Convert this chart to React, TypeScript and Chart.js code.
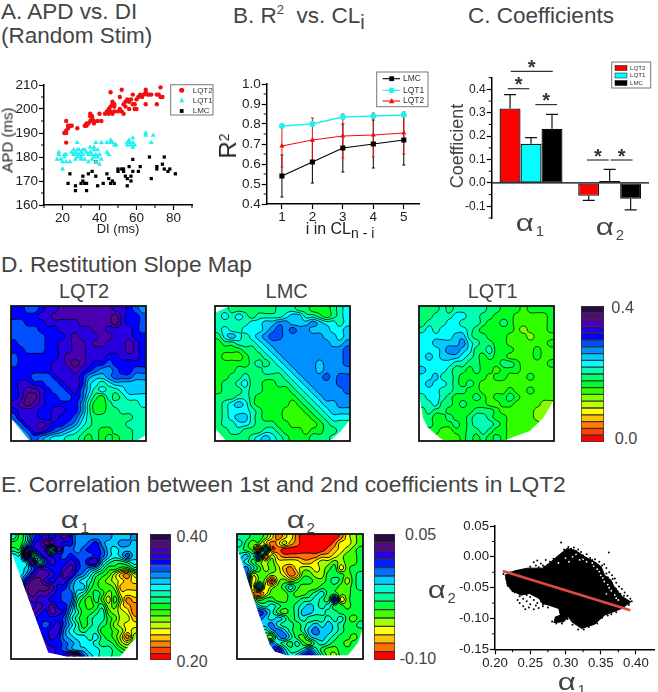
import React, { useEffect, useRef } from "react";
import { Chart, registerables } from "chart.js";

Chart.register(...registerables);

const FONT = "'Liberation Sans', Arial, sans-serif";
const INK = "#444";

// ---------- Panel A ----------
const apdLqt2 = [[21,190],[22,190],[22,191],[23,192],[23,193],[22,195],[24,193],[25,193],[22,186],[28,192],[32,193],[33,194],[33,193],[34,194],[35,195],[35,197],[35,198],[36,197],[36,196],[37,194],[37,195],[39,195],[41,195],[40,198],[43,198],[44,199],[45,198],[46,199],[47,198],[46,201],[47,202],[47,203],[48,202],[46,207],[48,199],[50,199],[51,200],[51,205],[52,199],[53,198],[53,202],[52,208],[54,201],[54,203],[55,204],[56,200],[56,203],[57,204],[58,202],[58,206],[59,200],[59,202],[60,204],[60,200],[61,205],[62,206],[63,205],[64,206],[65,207],[65,208],[66,206],[65,202],[68,206],[71,206],[71,202],[72,206],[73,205],[73,209],[74,205],[67,206],[45,200],[48,201]];
const apdLqt1 = [[17,179],[18,181],[18,182],[19,179],[20,178],[20,175],[21,180],[21,181],[22,181],[22,178],[24,178],[25,182],[26,183],[26,181],[27,182],[27,179],[28,180],[28,183],[28,181],[28,186],[29,183],[30,182],[30,180],[31,181],[31,183],[32,179],[32,183],[33,182],[34,178],[34,181],[35,184],[35,182],[36,181],[36,179],[37,183],[37,184],[37,180],[38,181],[38,186],[38,178],[39,183],[39,180],[40,181],[40,177],[41,186],[41,179],[44,182],[44,186],[45,181],[46,186],[46,187],[47,186],[48,185],[49,185],[55,185],[55,186],[56,186],[56,187],[57,185],[58,186],[58,188],[58,184],[59,185],[65,189],[65,190],[68,186],[69,189],[30,179],[29,181]];
const apdLmc = [[23,169],[24,173],[27,168],[27,166],[30,169],[31,170],[31,172],[32,169],[33,166],[33,169],[34,173],[36,174],[38,172],[38,178],[39,168],[42,169],[44,173],[45,171],[46,169],[47,170],[48,169],[50,175],[50,174],[52,175],[53,175],[53,174],[54,172],[55,168],[55,171],[56,176],[57,170],[57,172],[58,179],[58,174],[61,174],[62,176],[67,180],[68,171],[71,176],[71,175],[74,177],[75,180],[75,175],[77,174],[78,175],[81,173]];
const apdXTicks = [20, 40, 60, 80];
const apdXMinor = [10, 30, 50, 70, 90];
const apdYTicks = [160, 170, 180, 190, 200, 210];
const apdYMinor = [165, 175, 185, 195, 205];

// ---------- Panel B ----------
const cycleIndex = [1, 2, 3, 4, 5];
const r2Lmc = [0.54, 0.61, 0.68, 0.70, 0.72];
const r2Lqt1 = [0.79, 0.80, 0.835, 0.84, 0.845];
const r2Lqt2 = [0.69, 0.72, 0.74, 0.745, 0.755];
const r2LmcErr = [0.105, 0.105, 0.12, 0.12, 0.125];
const r2Lqt1Err = [0, 0.01, 0.012, 0.012, 0.012];
const r2Lqt2Err = [0.105, 0.11, 0.11, 0.11, 0.105];
const r2YTicks = [0.4, 0.5, 0.6, 0.7, 0.8, 0.9, 1.0];
const r2YMinor = [0.45, 0.55, 0.65, 0.75, 0.85, 0.95];

// ---------- Panel C ----------
const coefCategories = ["α1", "α2"];
const coefLqt2 = [0.318, -0.055];
const coefLqt1 = [0.168, 0.008];
const coefLmc = [0.232, -0.068];
const coefLqt2Err = [0.06, 0.02];
const coefLqt1Err = [0.026, 0.05];
const coefLmcErr = [0.061, 0.047];
const coefYTicks = [-0.1, 0, 0.1, 0.2, 0.3, 0.4];
const coefYMinor = [-0.15, -0.05, 0.05, 0.15, 0.25, 0.35, 0.45];
const coefBrackets = [[-0.258, 0.276, 0.477], [-0.296, -0.022, 0.403], [0.055, 0.331, 0.335], [0.712, 0.987, 0.098], [1.012, 1.291, 0.098]];

// ---------- Colour levels ----------
const levels20 = ["#ff0000","#ff4000","#ff8000","#ffc000","#ffff00","#c0ff00","#80ff00","#30ff00","#00ff20","#00ff70","#00ffb0","#00ffff","#00ccff","#0090ff","#0050ff","#0000ff","#2800e0","#4a00b0","#500a80","#2a0845"];
const levels15 = ["#ff0000","#ff7000","#ffc000","#ffff00","#a0ff00","#40ff00","#00ff40","#00ff90","#00ffd0","#00ccff","#0070ff","#0020ff","#2800e0","#500a80","#2a0845"];

// ---------- Maps: rows of contour-band indices, base 36 ----------
const mapLqt2 = ["ffeef gghhh hhhhh ggfed","ffffg ghhhh hhhhh igffe","eefff ggggg hhhhh igffe","eeeef ffggg gghhg gggfe","eeeee fffgh ggghh gggff","feeee ffggh hghhg gghgf","ffeee ffggh hgggg gghgf","effff ffghh hgggf fgggf","effff fgghi hgffe fffff","fffff fgggh gfedd effee","fffee efggg fdccd eeedd","fggff eefgg fcbab ccccc","fghhg feefg ecaba abccc","fgiig ffeef eb98a 9abbb","ghihg fffff da889 aaaab","fgggf fggff da889 9aaaa","egggf fgffe ca999 999aa","deggh gffed ba999 99aaa","ddegg fedcb a9988 999aa","ddded cbbaa 98989 899aa"];
const mapLmc = ["aa999 9999a aa998 889ab","ababa 9aaaa bccaa 989ab","aaaaa bbccd dcccd cbbab","abaab bbcde deddc ccbbc","9bcba bcdee ddddd dccbc","899aa abcdd ddddd ddccd","88889 9abcd ddddd dddde","87778 99abc ddddd dddde","88888 9a9ab cdddd cddde","88899 99aaa bcddd cdddd","8899a 99999 abcdd dedee","899ab 99889 9abcd dddee","8999a 99888 89abc dddde","999aa 98888 889ab cdddd","9abcb 98888 8789a bccdd","9abbb a9888 77789 abccc","9abcc a9888 77778 9abbb","9aabb a9998 87777 89aaa","99aa9 99aa9 88878 899aa","99999 abcba 98889 99aaa"];
const mapLqt1 = ["999a9 aaaaa 99888 78888","99aaa bbaa9 98887 77778","9aaab baaa9 88987 77778","ababb bba98 88887 67778","bbbbb cca99 88877 76777","bbccc cdba9 98877 77778","bbbcd dcb99 a8887 77877","bcbcc cba98 98877 77877","bbbbb aa998 88998 77778","cbbba 99898 87888 77777","bbcaa 98888 78877 78777","bcbba 98987 77777 77777","bbbaa 99887 77787 78777","abba9 88898 78898 77777","aab99 89888 77887 77766","9a998 88899 98777 77666","99889 889aa 98877 77666","89888 989aa a9877 77766","88877 8899a 98877 77777","88777 78989 89877 77777"];
const mapAlpha1 = ["a8aef gfghf ddddd dcccd","88bfg ihgff ddefd ccddc","99hfg f9hee deffe cbccc","bbj9e gffef eeefe cbcec","bbcha egffg feggc a99ab","bbceg gffgh fedca 88779","bbdgh hgfhg edb98 75325","cdgii gfgge cba87 65434","cdhii ihffd cc987 76333","dehih hgfee ba898 67444","efghg gffee a8797 58523","ffggh ghffd 98789 67432","ffghg fhgfc a889a 76542","ffggf fffeb 989aa 87553","fffgf efgec a89a9 86544","fffgf fggdb a9aa8 87645","ffffh fgfdc bbab9 87526","ffffi gffed cbba9 98657","ffffh ggfed ccbba a9878","ffffg hgfgi iecba a9999"];
const mapAlpha2 = ["77665 31231 00000 01345","86553 12421 00000 13345","7650a 11000 00001 23456","897b1 42111 11122 34556","98654 53333 22344 54556","9a864 54213 44345 63566","9a455 44312 55446 66567","9a354 04545 66556 76467","993a3 45686 55566 65567","9a213 55565 56786 65566","99756 65566 77876 c3566","99a87 87667 89878 66566","99aba 86567 99887 76666","999a9 89867 87778 78656","99999 a8776 78989 87667","99997 9a976 79a99 87666","99996 59a86 58998 76656","99998 a8768 65787 66566","99999 ac977 8a865 56667","99999 9ba89 bca75 46677"];

const maskLqt2 = [[0,0],[1,0],[1,.955],[.93,1],[.14,1],[0,.83]];
const maskLmc = [[.11,0],[1,0],[1,.84],[.93,.93],[.85,1],[.084,1],[0,.906],[0,.05]];
const maskLqt1 = [[0,0],[1,0],[1,.695],[.92,.83],[.82,.925],[.62,1],[.19,1],[.153,.975],[.067,.9],[.03,.83],[.01,.71],[0,.6]];
const maskAlpha1 = [[0,0],[1,0],[1,.75],[.99,.83],[.867,.98],[.44,.98],[.295,.947],[.2,.685],[.016,.18],[0,.125]];
const maskAlpha2 = [[0,0],[1,0],[1,.75],[.96,.87],[.88,.97],[.39,.97],[.3,.94],[.26,.886],[.175,.646],[.016,.154],[0,.1]];

// ---------- Panel E scatter ----------
const cloudOutline = [[.2139,-.0297],[.2278,-.0227],[.2464,-.0184],[.2673,-.0184],[.2766,-.0108],[.2905,.0027],[.3022,.0135],[.3137,.0108],[.3276,0],[.3415,-.0081],[.3508,-.0162],[.3554,-.0297],[.3647,-.0378],[.3694,-.0498],[.381,-.0649],[.3926,-.073],[.3833,-.0811],[.374,-.0866],[.3554,-.0947],[.3415,-.1093],[.323,-.1163],[.309,-.1055],[.3044,-.0974],[.2974,-.1055],[.2835,-.1066],[.2858,-.0974],[.2928,-.0947],[.2905,-.0839],[.2766,-.0784],[.2673,-.0757],[.2626,-.0676],[.2487,-.0595],[.2371,-.0622],[.2232,-.0541],[.2162,-.0433]];
const cloudStray = [[.2937,.0233],[.3615,.007],[.255,-.009],[.26,-.006],[.265,-.011],[.272,-.005],[.278,-.008],[.283,-.003],[.287,-.01],[.29,.001],[.268,-.014],[.258,-.014],[.275,-.013],[.296,.006],[.3,.01],[.304,.016],[.308,.013],[.312,.015],[.318,.012],[.322,.008],[.33,.004],[.335,-.002],[.342,-.004],[.348,-.008],[.355,-.012],[.358,-.018],[.362,-.025],[.366,-.03],[.37,-.035],[.372,-.042],[.376,-.048],[.38,-.052],[.384,-.058],[.388,-.063],[.392,-.068],[.378,-.06],[.385,-.07],[.394,-.072],[.37,-.05],[.365,-.042],[.36,-.033],[.374,-.056],[.39,-.078],[.38,-.083],[.372,-.09],[.36,-.095],[.345,-.1],[.24,-.068],[.245,-.072],[.25,-.065],[.255,-.07],[.26,-.075],[.235,-.075],[.24,-.08],[.248,-.082],[.255,-.085],[.262,-.083],[.268,-.08],[.25,-.077],[.258,-.079],[.243,-.085],[.265,-.072],[.232,-.07],[.212,-.028],[.216,-.036],[.22,-.042],[.225,-.05],[.228,-.058],[.235,-.06],[.222,-.025],[.232,-.023],[.24,-.021],[.25,-.016],[.262,-.017],[.27,-.016],[.282,-.012],[.293,-.003],[.298,.012],[.315,.009],[.325,.002],[.338,-.005],[.352,-.014],[.358,-.027],[.367,-.036],[.372,-.052],[.383,-.063],[.39,-.075],[.378,-.084],[.365,-.093],[.352,-.099],[.345,-.108],[.333,-.114],[.318,-.118],[.326,-.118],[.31,-.11],[.303,-.101],[.295,-.108],[.287,-.108],[.281,-.105],[.275,-.082],[.268,-.077],[.245,-.062],[.235,-.064],[.225,-.056],[.218,-.047]];
const cloudGaps = [[.345,-.02],[.35,-.03],[.36,-.045],[.365,-.055],[.355,-.04],[.37,-.062],[.34,-.015],[.375,-.07],[.358,-.06],[.33,-.008],[.32,-.005],[.31,0],[.3,-.002],[.29,-.01],[.305,-.008],[.348,-.024],[.353,-.034],[.362,-.05],[.372,-.067],[.338,-.01],[.325,-.004],[.315,.004]];
const fitLine = [[.211,-.023],[.392,-.0865]];
const corrXTicks = [.2, .25, .3, .35, .4];
const corrXMinor = [.225, .275, .325, .375];
const corrYTicks = [.05, 0, -.05, -.1, -.15];
const corrYMinor = [.025, -.025, -.075, -.125];

const pts = (a: number[][]) => a.map(([x, y]) => ({ x, y }));
const zip = (xs: number[], ys: number[]) => xs.map((x, i) => ({ x, y: ys[i] }));

function mark(ctx: any, kind: string, x: number, y: number, r: number, color: string) {
  ctx.fillStyle = color;
  ctx.beginPath();
  if (kind === "circle") ctx.arc(x, y, r, 0, Math.PI * 2);
  else if (kind === "triangle") { ctx.moveTo(x, y - r * 1.1); ctx.lineTo(x + r, y + r * 0.8); ctx.lineTo(x - r, y + r * 0.8); ctx.closePath(); }
  else ctx.rect(x - r, y - r, 2 * r, 2 * r);
  ctx.fill();
}

function legendPlugin(box: number[], rows: any[], font: number, draw: (ctx: any, row: any) => void, textX: number) {
  return {
    id: "boxLegend",
    afterDraw(chart: any) {
      const { ctx } = chart;
      ctx.save();
      ctx.fillStyle = "#fff";
      ctx.fillRect(box[0], box[1], box[2], box[3]);
      ctx.strokeStyle = "#777";
      ctx.lineWidth = 1;
      ctx.strokeRect(box[0], box[1], box[2], box[3]);
      ctx.font = `${font}px ${FONT}`;
      ctx.textBaseline = "middle";
      rows.forEach((row) => {
        draw(ctx, row);
        ctx.fillStyle = "#333";
        ctx.fillText(row.label, textX, row.y);
      });
      ctx.restore();
    },
  };
}

function minorTicks(xs: number[], ys: number[], len = 3) {
  return {
    id: "minorTicks",
    afterDraw(chart: any) {
      const { ctx, scales, chartArea: a } = chart;
      ctx.save();
      ctx.strokeStyle = "#000";
      ctx.lineWidth = 1;
      ctx.beginPath();
      xs.forEach((v) => { const p = scales.x.getPixelForValue(v); ctx.moveTo(p, a.bottom); ctx.lineTo(p, a.bottom + len); });
      ys.forEach((v) => { const p = scales.y.getPixelForValue(v); ctx.moveTo(a.left, p); ctx.lineTo(a.left - len, p); });
      ctx.stroke();
      ctx.restore();
    },
  };
}

function sampler(g: number[][]) {
  const ny = g.length, nx = g[0].length;
  const at = (i: number, j: number) => g[Math.max(0, Math.min(ny - 1, j))][Math.max(0, Math.min(nx - 1, i))];
  const cr = (p0: number, p1: number, p2: number, p3: number, t: number) =>
    0.5 * (2 * p1 + (p2 - p0) * t + (2 * p0 - 5 * p1 + 4 * p2 - p3) * t * t + (3 * p1 - p0 - 3 * p2 + p3) * t * t * t);
  return (x: number, y: number) => {
    const i = Math.floor(x), j = Math.floor(y), u = x - i, v = y - j;
    const r = [-1, 0, 1, 2].map((d) => cr(at(i - 1, j + d), at(i, j + d), at(i + 1, j + d), at(i + 2, j + d), u));
    return cr(r[0], r[1], r[2], r[3], v);
  };
}

function contourPlugin(colors: string[], mask: number[][], lineWidth: number) {
  return {
    id: "contour",
    beforeDatasetsDraw(chart: any) {
      const { ctx, chartArea: a, scales: { x, y } } = chart;
      const cells = chart.data.datasets[0].data;
      const g: number[][] = [];
      cells.forEach((c: any) => { (g[c.y] = g[c.y] || [])[c.x] = c.v; });
      const f = sampler(g);
      const W = Math.round(a.width), H = Math.round(a.height);
      const field = new Float32Array((W + 1) * (H + 1));
      for (let j = 0; j <= H; j++) for (let i = 0; i <= W; i++)
        field[j * (W + 1) + i] = f(x.getValueForPixel(a.left + i), y.getValueForPixel(a.top + j));
      const rgb = colors.map((c) => [1, 3, 5].map((k) => parseInt(c.slice(k, k + 2), 16)));
      const off = document.createElement("canvas");
      off.width = W; off.height = H;
      const octx = off.getContext("2d") as CanvasRenderingContext2D;
      const img = octx.createImageData(W, H);
      for (let j = 0; j < H; j++) for (let i = 0; i < W; i++) {
        const v = (field[j * (W + 1) + i] + field[j * (W + 1) + i + 1] + field[(j + 1) * (W + 1) + i] + field[(j + 1) * (W + 1) + i + 1]) / 4;
        const b = Math.max(0, Math.min(colors.length - 1, Math.round(v)));
        const o = (j * W + i) * 4;
        img.data[o] = rgb[b][0]; img.data[o + 1] = rgb[b][1]; img.data[o + 2] = rgb[b][2]; img.data[o + 3] = 255;
      }
      octx.putImageData(img, 0, 0);
      ctx.save();
      ctx.beginPath();
      mask.forEach(([fx, fy], i) => {
        const px = a.left + fx * a.width, py = a.top + fy * a.height;
        if (i) ctx.lineTo(px, py); else ctx.moveTo(px, py);
      });
      ctx.closePath();
      ctx.clip();
      ctx.drawImage(off, a.left, a.top);
      ctx.beginPath();
      for (let k = 0; k < colors.length - 1; k++) {
        const L = k + 0.5;
        for (let j = 0; j < H; j++) for (let i = 0; i < W; i++) {
          const p = j * (W + 1) + i;
          const A = field[p], B = field[p + 1], C = field[p + W + 2], D = field[p + W + 1];
          const q: number[][] = [];
          if ((A < L) !== (B < L)) q.push([i + (L - A) / (B - A), j]);
          if ((B < L) !== (C < L)) q.push([i + 1, j + (L - B) / (C - B)]);
          if ((D < L) !== (C < L)) q.push([i + (L - D) / (C - D), j + 1]);
          if ((A < L) !== (D < L)) q.push([i, j + (L - A) / (D - A)]);
          for (let s = 0; s + 1 < q.length; s += 2) {
            ctx.moveTo(a.left + q[s][0], a.top + q[s][1]);
            ctx.lineTo(a.left + q[s + 1][0], a.top + q[s + 1][1]);
          }
        }
      }
      ctx.strokeStyle = "rgba(0,0,0,0.9)";
      ctx.lineWidth = lineWidth;
      ctx.stroke();
      ctx.restore();
      ctx.strokeStyle = "#111";
      ctx.lineWidth = 1.8;
      ctx.strokeRect(a.left, a.top, a.width, a.height);
    },
  };
}

const tickFont = (size: number) => ({ family: FONT, size });

function linearAxis(min: number, max: number, tickValues: number[], decimals: number, size: number, side: "x" | "y", fit: number, pad: number, reverse = false) {
  return {
    type: "linear", min, max, reverse,
    afterBuildTicks(s: any) { s.ticks = tickValues.map((value) => ({ value })); },
    afterFit(s: any) { if (side === "x") s.height = fit; else s.width = fit; },
    grid: { display: true, drawOnChartArea: false, drawTicks: true, tickLength: 5, tickWidth: 1.2, tickColor: "#000", color: "#000" },
    border: { display: true, color: "#000", width: 1.5 },
    ticks: { autoSkip: false, maxRotation: 0, minRotation: 0, padding: pad, color: "#222", font: tickFont(size), callback: (v: number) => Number(v).toFixed(decimals) },
  };
}

const baseOptions = (padTop: number, padRight: number, scales: any) => ({
  responsive: false,
  animation: false,
  events: [],
  layout: { padding: { top: padTop, right: padRight, left: 0, bottom: 0 } },
  plugins: { legend: { display: false }, tooltip: { enabled: false } },
  scales,
});

function ChartBox({ left, top, width, height, build }: any) {
  const ref = useRef<HTMLCanvasElement | null>(null);
  useEffect(() => {
    const chart = new Chart(ref.current as HTMLCanvasElement, build());
    return () => chart.destroy();
  }, []);
  return <canvas ref={ref} width={width} height={height} style={{ position: "absolute", left, top, width, height, display: "block" }} />;
}

function MapChart({ rows, colors, mask, box, lineWidth }: any) {
  const grid = rows.map((r: string) => [...r.replace(/ /g, "")].map((c) => parseInt(c, 36)));
  const cells: any[] = [];
  grid.forEach((row: number[], y: number) => row.forEach((v, x) => cells.push({ x, y, v })));
  const [l, t, r, b] = box;
  return (
    <ChartBox left={l - 2} top={t - 2} width={r - l + 4} height={b - t + 4} build={() => ({
      type: "scatter",
      data: { datasets: [{ data: cells, pointRadius: 0 }] },
      options: {
        ...baseOptions(2, 2, {
          x: { type: "linear", display: false, min: -0.5, max: grid[0].length - 0.5 },
          y: { type: "linear", display: false, min: -0.5, max: grid.length - 0.5, reverse: true },
        }),
        layout: { padding: 2 },
      },
      plugins: [contourPlugin(colors, mask, lineWidth)],
    })} />
  );
}

function ColorBar({ colors, step, box }: any) {
  const [l, t, r, b] = box;
  return (
    <ChartBox left={l - 1} top={t - 1} width={r - l + 2} height={b - t + 2} build={() => ({
      type: "bar",
      data: {
        labels: [""],
        datasets: colors.map((c: string) => ({ data: [step], backgroundColor: c, borderColor: "#333", borderWidth: 1, borderSkipped: false, barPercentage: 1, categoryPercentage: 1 })),
      },
      options: {
        ...baseOptions(1, 1, {
          x: { display: false, stacked: true },
          y: { display: false, stacked: true, min: 0, max: step * colors.length },
        }),
        layout: { padding: 1 },
      },
    })} />
  );
}

function Txt({ x, y, size = 14, rotate = 0, anchor = "center", color = "#222", children }: any) {
  const tx = anchor === "center" ? "-50%" : "0";
  return (
    <div style={{ position: "absolute", left: x, top: y, fontFamily: FONT, fontSize: size, color, lineHeight: 1, whiteSpace: "nowrap", transform: `translate(${tx},-50%) rotate(${rotate}deg)` }}>
      {children}
    </div>
  );
}

const Sub = ({ size, top, children }: any) => <span style={{ fontSize: size, position: "relative", top, lineHeight: 0 }}>{children}</span>;
const Alpha = ({ n }: any) => (
  <>
    <span style={{ display: "inline-block", transform: "scaleX(1.3)", margin: "0 4px 0 2px" }}>α</span>
    <Sub size={15} top={5}>{n}</Sub>
  </>
);

function panelA() {
  const [L, T] = [0, 65];
  const series = [
    { label: "LQT2", data: apdLqt2, color: "#f01010", kind: "circle", r: 2.2 },
    { label: "LQT1", data: apdLqt1, color: "#20f0f0", kind: "triangle", r: 2.4 },
    { label: "LMC", data: apdLmc, color: "#000", kind: "rect", r: 1.7 },
  ];
  const rowsY = [90.3 - T, 100.3 - T, 111 - T];
  return {
    type: "scatter",
    data: {
      datasets: series.map((s) => ({
        label: s.label, data: pts(s.data), backgroundColor: s.color, borderWidth: 0,
        pointStyle: s.kind === "rect" ? "rect" : s.kind, pointRadius: s.kind === "rect" ? 2.3 : s.r + (s.kind === "triangle" ? 0.5 : 0),
      })),
    },
    options: baseOptions(85 - T, 218 - 192, {
      x: linearAxis(10, 90, apdXTicks, 0, 13.5, "x", 235 - 205, 0),
      y: linearAxis(160, 210, apdYTicks, 0, 13.5, "y", 44 - L, 1),
    }),
    plugins: [
      minorTicks(apdXMinor, apdYMinor),
      legendPlugin([170.7 - L, 84.7 - T, 42.3, 30.3], series.map((s, i) => ({ ...s, y: rowsY[i] })), 8, (ctx, row) => mark(ctx, row.kind, 181.7 - L, row.y, row.kind === "rect" ? 1.9 : 2.5, row.color), 192.7 - L),
    ],
  };
}

function panelB() {
  const [L, T] = [235, 62];
  const series = [
    { label: "LMC", ys: r2Lmc, err: r2LmcErr, color: "#000", kind: "rect", style: "rect", radius: 3 },
    { label: "LQT1", ys: r2Lqt1, err: r2Lqt1Err, color: "#20f0f0", kind: "circle", style: "circle", radius: 3 },
    { label: "LQT2", ys: r2Lqt2, err: r2Lqt2Err, color: "#ee1111", kind: "triangle", style: "triangle", radius: 3 },
  ];
  const errPlugin = {
    id: "errBars",
    beforeDatasetsDraw(chart: any) {
      const { ctx, scales: { x, y } } = chart;
      ctx.save();
      series.forEach((s) => {
        ctx.strokeStyle = s.color;
        ctx.lineWidth = 1;
        ctx.beginPath();
        cycleIndex.forEach((c, i) => {
          const px = x.getPixelForValue(c), lo = y.getPixelForValue(s.ys[i] - s.err[i]), hi = y.getPixelForValue(s.ys[i] + s.err[i]);
          ctx.moveTo(px, lo); ctx.lineTo(px, hi);
          ctx.moveTo(px - 1.5, lo); ctx.lineTo(px + 1.5, lo);
          ctx.moveTo(px - 1.5, hi); ctx.lineTo(px + 1.5, hi);
        });
        ctx.stroke();
      });
      ctx.restore();
    },
  };
  const rowsY = [78.7 - T, 90.3 - T, 101 - T];
  return {
    type: "scatter",
    data: {
      datasets: series.map((s) => ({
        label: s.label, data: zip(cycleIndex, s.ys), showLine: true, tension: 0, borderColor: s.color, borderWidth: s.kind === "circle" ? 1.4 : 1.1,
        backgroundColor: s.color, pointBackgroundColor: s.color, pointBorderWidth: 0, pointStyle: s.style, pointRadius: s.kind === "rect" ? 3.6 : s.radius,
      })),
    },
    options: baseOptions(84 - T, 430 - 419, {
      x: linearAxis(0.5, 5.5, cycleIndex, 0, 13.5, "x", 225 - 204, 0),
      y: linearAxis(0.4, 1.0, r2YTicks, 1, 13.5, "y", 266.7 - L, 1),
    }),
    plugins: [
      errPlugin,
      minorTicks([], r2YMinor),
      legendPlugin([376.7 - L, 72 - T, 51.3, 34.7], series.map((s, i) => ({ ...s, y: rowsY[i] })), 8.5, (ctx, row) => {
        ctx.strokeStyle = row.color;
        ctx.lineWidth = 1.1;
        ctx.beginPath(); ctx.moveTo(382.7 - L, row.y); ctx.lineTo(400 - L, row.y); ctx.stroke();
        mark(ctx, row.kind, 391.7 - L, row.y, row.kind === "rect" ? 2.4 : 2.8, row.color);
      }, 403 - L),
    ],
  };
}

function panelC() {
  const [L, T] = [440, 50];
  const series = [
    { label: "LQT2", data: coefLqt2, err: coefLqt2Err, color: "#ff0000" },
    { label: "LQT1", data: coefLqt1, err: coefLqt1Err, color: "#00ffff" },
    { label: "LMC", data: coefLmc, err: coefLmcErr, color: "#000000" },
  ];
  const overlay = {
    id: "coefOverlay",
    beforeDatasetsDraw(chart: any) {
      const { ctx, scales: { x, y } } = chart;
      ctx.save();
      ctx.strokeStyle = "#111";
      ctx.lineWidth = 1.2;
      ctx.beginPath();
      series.forEach((s, d) => {
        const bars = chart.getDatasetMeta(d).data;
        s.data.forEach((v, i) => {
          const px = bars[i].x, end = y.getPixelForValue(v + (v >= 0 ? s.err[i] : -s.err[i]));
          ctx.moveTo(px, y.getPixelForValue(v)); ctx.lineTo(px, end);
          ctx.moveTo(px - 6, end); ctx.lineTo(px + 6, end);
        });
      });
      ctx.stroke();
      ctx.restore();
    },
    afterDatasetsDraw(chart: any) {
      const { ctx, scales: { x, y }, chartArea: a } = chart;
      ctx.save();
      ctx.strokeStyle = "#000";
      ctx.lineWidth = 1.2;
      ctx.beginPath();
      ctx.moveTo(a.left, y.getPixelForValue(0)); ctx.lineTo(a.right, y.getPixelForValue(0));
      ctx.stroke();
      ctx.strokeStyle = "#333";
      ctx.fillStyle = "#333";
      ctx.font = `bold 20px ${FONT}`;
      ctx.textAlign = "center";
      ctx.textBaseline = "middle";
      coefBrackets.forEach(([x0, x1, v]) => {
        const p0 = x.getPixelForValue(x0), p1 = x.getPixelForValue(x1), py = y.getPixelForValue(v);
        ctx.beginPath(); ctx.moveTo(p0, py); ctx.lineTo(p1, py); ctx.stroke();
        ctx.fillText("*", (p0 + p1) / 2, py - 3);
      });
      ctx.restore();
    },
  };
  const rowsY = [68 - T, 75.5 - T, 83 - T];
  return {
    type: "bar",
    data: {
      labels: coefCategories,
      datasets: series.map((s) => ({ label: s.label, data: s.data, backgroundColor: s.color, borderColor: "#111", borderWidth: 1.3, borderSkipped: false, barPercentage: 1, categoryPercentage: 0.8 })),
    },
    options: baseOptions(77.7 - T, 658 - 649, {
      x: {
        type: "category",
        afterFit(s: any) { s.height = 230 - 218; },
        grid: { display: false, drawTicks: false },
        border: { display: false },
        ticks: { display: false },
      },
      y: linearAxis(-0.15, 0.45, coefYTicks, 1, 12, "y", 491.7 - L, 1),
    }),
    plugins: [
      overlay,
      minorTicks([], coefYMinor),
      legendPlugin([611.7 - L, 62 - T, 39, 26], series.map((s, i) => ({ ...s, y: rowsY[i] })), 6.2, (ctx, row) => {
        ctx.fillStyle = row.color;
        ctx.fillRect(615 - L, row.y - 2.5, 12, 5);
        ctx.strokeStyle = "#111";
        ctx.lineWidth = 0.5;
        ctx.strokeRect(615 - L, row.y - 2.5, 12, 5);
      }, 630 - L),
    ],
  };
}

function panelE() {
  const [L, T] = [455, 515];
  return {
    type: "scatter",
    data: {
      datasets: [
        { label: "fit", data: pts(fitLine), showLine: true, tension: 0, borderColor: "#e04848", borderWidth: 2.6, pointRadius: 0 },
        { label: "gaps", data: pts(cloudGaps), backgroundColor: "#fff", pointRadius: 0.9, borderWidth: 0 },
        { label: "stray", data: pts(cloudStray), backgroundColor: "#000", pointRadius: 1, borderWidth: 0 },
        { label: "cloud", data: pts(cloudOutline), showLine: true, tension: 0, fill: "shape", borderColor: "#000", backgroundColor: "#000", borderWidth: 1, pointRadius: 0 },
      ],
    },
    options: baseOptions(526 - T, 658 - 657, {
      x: linearAxis(0.2, 0.4256, corrXTicks, 2, 13.2, "x", 680 - 649.3, 1.5),
      y: linearAxis(-0.15, 0.05, corrYTicks, 2, 13.2, "y", 495 - L, 1),
    }),
    plugins: [minorTicks(corrXMinor, corrYMinor)],
  };
}

export default function App() {
  return (
    <div style={{ position: "absolute", left: 0, top: 0, width: 658, height: 692, background: "#fff", overflow: "hidden" }}>
      <Txt x={1} y={11.7} size={22.5} anchor="left" color={INK}>A. APD vs. DI</Txt>
      <Txt x={1} y={36} size={22.5} anchor="left" color={INK}>(Random Stim)</Txt>
      <Txt x={233} y={15.5} size={22.5} anchor="left" color={INK}>B. R<Sub size={13} top={-9}>2</Sub>&nbsp; vs. CL<Sub size={20} top={6}>i</Sub></Txt>
      <Txt x={468} y={16} size={22.5} anchor="left" color={INK}>C. Coefficients</Txt>

      <ChartBox left={0} top={65} width={218} height={170} build={panelA} />
      <ChartBox left={235} top={62} width={195} height={163} build={panelB} />
      <ChartBox left={440} top={50} width={218} height={180} build={panelC} />

      <Txt x={7} y={140} size={15} rotate={-90}>APD (ms)</Txt>
      <Txt x={118} y={228} size={13}>DI (ms)</Txt>
      <Txt x={228} y={146} size={24} rotate={-90} color="#222">R<Sub size={14} top={-7}>2</Sub></Txt>
      <Txt x={340} y={229} size={16}>i in CL<Sub size={14} top={4}>n - i</Sub></Txt>
      <Txt x={456.7} y={146} size={18} rotate={-90} color={INK}>Coefficient</Txt>
      <Txt x={530} y={222.7} size={24} color={INK}><Alpha n="1" /></Txt>
      <Txt x={610} y={226.7} size={24} color={INK}><Alpha n="2" /></Txt>

      <Txt x={1} y={264} size={22.7} anchor="left" color={INK}>D. Restitution Slope Map</Txt>
      <Txt x={84} y={290.7} size={20} color={INK}>LQT2</Txt>
      <Txt x={286.7} y={290.7} size={20} color={INK}>LMC</Txt>
      <Txt x={492.7} y={290.7} size={20} color={INK}>LQT1</Txt>
      <MapChart rows={mapLqt2} colors={levels20} mask={maskLqt2} box={[11, 306, 146, 441]} lineWidth={0.8} />
      <MapChart rows={mapLmc} colors={levels20} mask={maskLmc} box={[215, 306, 350, 441]} lineWidth={0.8} />
      <MapChart rows={mapLqt1} colors={levels20} mask={maskLqt1} box={[419, 306, 554, 441]} lineWidth={0.8} />
      <ColorBar colors={levels20} step={0.02} box={[581, 306, 604, 442]} />
      <Txt x={622.7} y={307} size={16.3} color={INK}>0.4</Txt>
      <Txt x={626} y={438} size={16.3} color={INK}>0.0</Txt>

      <Txt x={1} y={484} size={22.8} anchor="left" color={INK}>E. Correlation between 1st and 2nd coefficients in LQT2</Txt>
      <Txt x={75} y={520} size={24} color={INK}><Alpha n="1" /></Txt>
      <Txt x={300.7} y={520} size={24} color={INK}><Alpha n="2" /></Txt>
      <MapChart rows={mapAlpha1} colors={levels20} mask={maskAlpha1} box={[11, 534, 137, 659]} lineWidth={1} />
      <MapChart rows={mapAlpha2} colors={levels15} mask={maskAlpha2} box={[237, 534, 363, 659]} lineWidth={1} />
      <ColorBar colors={levels20} step={0.01} box={[150, 534, 171, 660]} />
      <ColorBar colors={levels15} step={0.01} box={[374, 534, 395, 660]} />
      <Txt x={192} y={537} size={16} color={INK}>0.40</Txt>
      <Txt x={192} y={662} size={16} color={INK}>0.20</Txt>
      <Txt x={420.7} y={535} size={16} color={INK}>0.05</Txt>
      <Txt x={418} y={659} size={16} color={INK}>-0.10</Txt>

      <ChartBox left={455} top={515} width={203} height={165} build={panelE} />
      <Txt x={441.7} y={590} size={24} color={INK}><Alpha n="2" /></Txt>
      <Txt x={571.7} y={682} size={24} color={INK}><Alpha n="1" /></Txt>
    </div>
  );
}
